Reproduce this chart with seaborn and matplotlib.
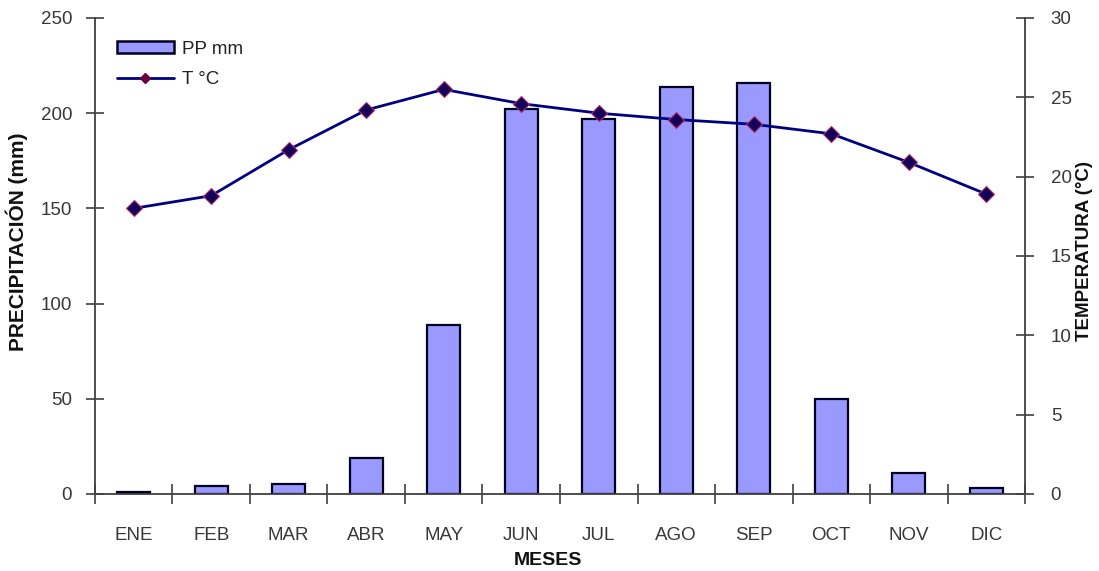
import numpy as np
import pandas as pd
import matplotlib
matplotlib.use("Agg")
import matplotlib.pyplot as plt
from matplotlib.lines import Line2D
from matplotlib.patches import Patch
from matplotlib.ticker import FixedLocator, MultipleLocator
import seaborn as sns

# Monthly climate data
meses = ["ENE", "FEB", "MAR", "ABR", "MAY", "JUN", "JUL", "AGO", "SEP", "OCT", "NOV", "DIC"]
precipitacion = [1, 4, 5, 19, 89, 202, 197, 214, 216, 50, 11, 3]
temperatura = [18.0, 18.8, 21.7, 24.2, 25.5, 24.6, 24.0, 23.6, 23.3, 22.7, 20.9, 18.9]

df = pd.DataFrame({"mes": meses, "pp": precipitacion, "t": temperatura,
                   "pos": np.arange(len(meses))})

sns.set_theme(style="white")
plt.rcParams["font.family"] = ["Liberation Sans", "DejaVu Sans"]

fig = plt.figure(figsize=(10.99, 5.71), dpi=100)
ax = fig.add_axes([0.0864, 0.1349, 0.8463, 0.8336])

bar_color = "#9999FF"
line_color = "#000080"
axis_color = "#404040"
text_color = "#383838"
tick_fs = 13.5

sns.barplot(data=df, x="mes", y="pp", order=meses, color=bar_color,
            width=0.43, edgecolor="#000022", linewidth=1.6, saturation=1,
            ax=ax)
ax.set_xlim(-0.5, len(meses) - 0.5)
ax.set_ylim(0, 250)

ax2 = ax.twinx()
sns.lineplot(data=df, x="pos", y="t", color=line_color, linewidth=2.0,
             marker="D", markersize=8, markerfacecolor="#14005a",
             markeredgecolor="#b0306a", markeredgewidth=0.8, ax=ax2)
ax2.set_ylim(0, 30)
ax2.set_xlim(-0.5, len(meses) - 0.5)

# Spines
for a in (ax, ax2):
    a.spines["top"].set_visible(False)
    for s in ("left", "right", "bottom"):
        a.spines[s].set_color(axis_color)
        a.spines[s].set_linewidth(1.3)
ax.spines["right"].set_visible(False)
ax2.spines["left"].set_visible(False)
ax2.spines["bottom"].set_visible(False)

# Ticks
ax.yaxis.set_major_locator(MultipleLocator(50))
ax2.yaxis.set_major_locator(MultipleLocator(5))
ax.tick_params(axis="y", direction="inout", length=13, width=1.2,
               color=axis_color, labelsize=tick_fs, labelcolor=text_color, pad=10)
ax2.tick_params(axis="y", direction="inout", length=13, width=1.2,
                color=axis_color, labelsize=tick_fs, labelcolor=text_color, pad=12)
ax.xaxis.set_minor_locator(FixedLocator(np.arange(-0.5, len(meses), 1.0)))
ax.tick_params(axis="x", which="major", length=0, labelsize=tick_fs,
               labelcolor=text_color, pad=24)
ax.tick_params(axis="x", which="minor", direction="inout", length=14,
               width=1.2, color=axis_color, bottom=True)

ax.set_xlabel("MESES", fontsize=14, fontweight="bold", color="#111111")
ax.xaxis.set_label_coords(0.487, -0.121)
ax.set_ylabel("PRECIPITACIÓN (mm)", fontsize=15, fontweight="bold",
              color="#111111")
ax.yaxis.set_label_coords(-0.072, 0.53)
ax2.set_ylabel("TEMPERATURA (°C)", fontsize=13.5, fontweight="bold",
               color="#111111")
ax2.yaxis.set_label_coords(1.0548, 0.51)
ax2.set_xlabel("")

handles = [Patch(facecolor=bar_color, edgecolor="#000022", linewidth=1.8),
           Line2D([0], [0], color=line_color, linewidth=2.0, marker="D",
                  markersize=5, markerfacecolor="#6a0040",
                  markeredgecolor="#6a0040")]
ax.legend(handles, ["PP mm", "T °C"], loc="upper left",
          bbox_to_anchor=(0.0059, 0.9876), frameon=False, fontsize=13.5,
          handlelength=3.0, handleheight=0.55, labelspacing=0.7,
          handletextpad=0.45, labelcolor="#222222")
ax.set_zorder(ax2.get_zorder() - 1)
ax2.patch.set_visible(False)
ax.patch.set_visible(True)
ax.patch.set_facecolor("white")

fig.savefig("out.png", dpi=100, facecolor="white")
